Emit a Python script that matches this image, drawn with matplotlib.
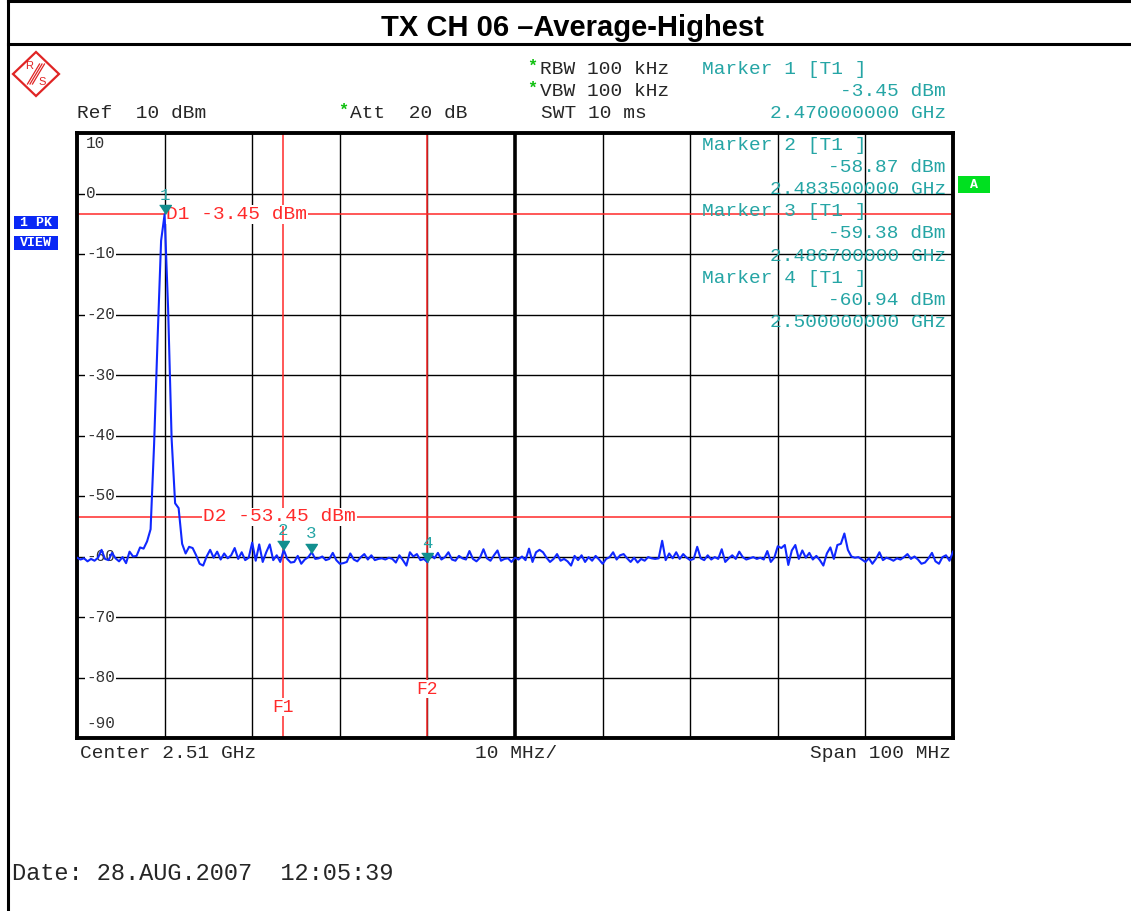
import numpy as np
import matplotlib
matplotlib.use("Agg")
import matplotlib.pyplot as plt
from matplotlib.lines import Line2D
from matplotlib.patches import Polygon, Rectangle

# ---------------- data ----------------
START_MHZ = 2460.0
STOP_MHZ = 2560.0
REF_LEVEL_DBM = 10
BOTTOM_LEVEL_DBM = -90

trace_dbm = [
    -60.2, -60.5, -60.3, -60.8, -60.4, -60.7, -60.2, -58.9, -60.4, -60.6,
    -59.4, -60.3, -60.8, -60.1, -61.1, -59.2, -60.0, -59.9, -58.5, -58.7,
    -57.5, -55.5, -41.5, -24.0, -7.8, -3.45, -19.0, -40.5, -51.2, -52.0,
    -57.9, -59.5, -58.4, -58.6, -59.8, -61.2, -61.5, -60.0, -58.9, -60.2,
    -59.2, -60.5, -59.5, -60.3, -59.8, -58.6, -60.4, -59.3, -60.6, -60.2,
    -57.7, -60.7, -58.0, -60.9, -59.3, -58.0, -60.6, -59.8, -60.9, -58.9,
    -60.4, -61.0, -60.9, -59.9, -61.2, -60.5, -60.1, -59.3, -60.4, -60.3,
    -60.0, -60.6, -60.4, -59.4, -60.6, -61.2, -61.1, -60.9, -59.5, -60.5,
    -60.8, -60.1, -59.6, -60.5, -59.8, -60.6, -60.4, -60.3, -60.5, -60.2,
    -60.4, -61.0, -59.8, -60.6, -61.5, -59.3, -60.0, -59.6, -60.6, -60.4,
    -60.94, -59.6, -60.3, -59.4, -60.5, -60.1, -59.3, -60.5, -60.7, -59.9,
    -60.3, -60.5, -59.1, -60.4, -60.8, -60.2, -58.8, -60.3, -60.7, -59.8,
    -59.0, -60.7, -60.4, -60.3, -60.9, -60.2, -60.5, -60.0, -60.6, -58.7,
    -60.9, -59.3, -58.9, -59.3, -60.2, -60.9, -60.4, -59.6, -60.7, -60.4,
    -60.8, -61.5, -59.9, -60.6, -59.8, -60.9, -60.1, -60.7, -59.9, -60.5,
    -61.2, -60.4, -60.1, -59.3, -60.5, -59.8, -59.6, -60.3, -60.9, -60.2,
    -61.0, -60.4, -60.7, -60.1, -60.3, -60.4, -60.3, -57.4, -60.6, -59.5,
    -60.3, -59.3, -60.4, -59.6, -60.2, -60.6, -60.4, -58.4, -60.3, -60.6,
    -59.8, -60.5, -60.1, -60.4, -58.8, -60.9, -60.3, -59.8, -60.4, -59.2,
    -60.1, -60.5, -60.3, -60.1, -60.4, -60.2, -60.5, -59.1, -60.9, -60.2,
    -58.3, -58.6, -58.1, -61.4, -59.0, -58.1, -60.4, -59.0, -60.2, -59.4,
    -60.5, -59.9, -60.6, -61.5, -59.5, -58.5, -60.4, -58.1, -57.9, -56.2,
    -58.9, -60.0, -60.2, -60.1, -60.5, -60.9, -60.3, -61.2, -60.4, -59.3,
    -60.6, -60.2, -60.4, -60.7, -60.3, -60.5, -60.1, -59.6, -60.4, -60.0,
    -60.5, -61.2, -61.0, -60.3, -59.4, -60.8, -61.2, -60.1, -59.8, -60.7,
    -59.2,
]
freq_mhz = np.linspace(START_MHZ, STOP_MHZ, len(trace_dbm))

marker_ids = [1, 2, 3, 4]
marker_freq_ghz = [2.470, 2.4835, 2.4867, 2.500]
marker_level_dbm = [-3.45, -58.87, -59.38, -60.94]

display_line_names = ["D1", "D2"]
display_line_dbm = [-3.45, -53.45]
freq_line_names = ["F1", "F2"]
freq_line_ghz = [2.4835, 2.500]

y_tick_values = [10, 0, -10, -20, -30, -40, -50, -60, -70, -80, -90]

# ---------------- figure ----------------
W, H = 1131, 911
MONO = "Liberation Mono"
FS = 14
TEAL = "#25a5a5"
MTEAL = "#118f8f"
RED = "#ff2a2a"
DARK = "#262626"


def fx(px):
    return px / W


def fy(py):
    return 1 - py / H


fig = plt.figure(figsize=(W / 100, H / 100), dpi=100)
fig.patch.set_facecolor("white")

L, R, T, B = 77, 953, 133, 738
ax = fig.add_axes([fx(L), fy(B), (R - L) / W, (B - T) / H])
ax.set_xlim(START_MHZ, STOP_MHZ)
ax.set_ylim(BOTTOM_LEVEL_DBM, REF_LEVEL_DBM)
ax.set_xticks([])
ax.set_yticks([])
for s in ax.spines.values():
    s.set_linewidth(2.8)
    s.set_color("black")

# grid
for k in range(1, 10):
    xv = START_MHZ + k * (STOP_MHZ - START_MHZ) / 10
    ax.axvline(xv, color="black", lw=2.6 if k == 5 else 1.0, zorder=1)
for yv in y_tick_values[1:-1]:
    ax.axhline(yv, color="black", lw=1.0, zorder=1)

# y labels inside the plot
xlab = 9 / (R - L)
for yv in y_tick_values:
    if yv == REF_LEVEL_DBM:
        ax.text(xlab, (B - 144) / (B - T), str(yv), transform=ax.transAxes, ha="left", va="center",
                family=MONO, fontsize=11.5, color="#333333", zorder=3)
    elif yv == BOTTOM_LEVEL_DBM:
        ax.text(xlab, (B - 723) / (B - T), str(yv), transform=ax.transAxes, ha="left", va="center",
                family=MONO, fontsize=11.5, color="#333333", zorder=3)
    else:
        ax.text(xlab, yv, str(yv), transform=ax.get_yaxis_transform(), ha="left", va="center",
                family=MONO, fontsize=11.5, color="#333333", zorder=3,
                bbox=dict(fc="white", ec="none", pad=0.6))

# display lines and frequency lines
for name, lvl, start_px in zip(display_line_names, display_line_dbm, [166, 203]):
    ax.axhline(lvl, color=RED, lw=1.1, zorder=2)
    ax.text(START_MHZ + (start_px - L) / 8.76, lvl, f"{name} {lvl:.2f} dBm", ha="left", va="center",
            family=MONO, fontsize=FS, color=RED, zorder=3,
            bbox=dict(fc="white", ec="none", pad=0.5))
for name, fg, ypx in zip(freq_line_names, freq_line_ghz, [707, 689]):
    ax.axvline(fg * 1000, color=RED, lw=1.1, zorder=2)
    ax.text(fg * 1000, (B - ypx) / (B - T), name, transform=ax.get_xaxis_transform(),
            ha="center", va="center", family=MONO, fontsize=13, color=RED, zorder=3,
            bbox=dict(fc="white", ec="none", pad=0.6))

# trace
ax.plot(freq_mhz, trace_dbm, color="#1028ff", lw=1.5, zorder=4)

# markers
tri = [(-0.65, 1.0), (0.65, 1.0), (0.0, 0.0)]
for mid, mf, ml in zip(marker_ids, marker_freq_ghz, marker_level_dbm):
    ax.plot([mf * 1000], [ml], marker=tri, ms=13, color=MTEAL, mec=MTEAL, zorder=5, ls="none")
    ax.annotate(str(mid), (mf * 1000, ml), xytext=(0, 13.5), textcoords="offset points",
                ha="center", va="center", family=MONO, fontsize=12.5, color=TEAL, zorder=6)

# marker readouts
rows_y = [(69, 91, 113), (145, 167, 189), (212, 234, 256), (279, 301, 323)]
for mid, mf, ml, (y1, y2, y3) in zip(marker_ids, marker_freq_ghz, marker_level_dbm, rows_y):
    fig.text(fx(702), fy(y1), f"Marker {mid} [T1 ]", ha="left", va="center",
             family=MONO, fontsize=FS, color=TEAL, zorder=10)
    fig.text(fx(946), fy(y2), f"{ml:.2f} dBm", ha="right", va="center",
             family=MONO, fontsize=FS, color=TEAL, zorder=10)
    fig.text(fx(946), fy(y3), f"{mf:.9f} GHz", ha="right", va="center",
             family=MONO, fontsize=FS, color=TEAL, zorder=10)

# header settings
GREEN = "#10c010"
fig.text(fx(527), fy(66), "*", family=MONO, fontsize=12, color=GREEN, ha="left", va="center", weight="bold")
fig.text(fx(540), fy(69), "RBW 100 kHz", family=MONO, fontsize=FS, color=DARK, ha="left", va="center")
fig.text(fx(527), fy(88), "*", family=MONO, fontsize=12, color=GREEN, ha="left", va="center", weight="bold")
fig.text(fx(540), fy(91), "VBW 100 kHz", family=MONO, fontsize=FS, color=DARK, ha="left", va="center")
fig.text(fx(77), fy(113), "Ref  10 dBm", family=MONO, fontsize=FS, color=DARK, ha="left", va="center")
fig.text(fx(338), fy(110), "*", family=MONO, fontsize=12, color=GREEN, ha="left", va="center", weight="bold")
fig.text(fx(350), fy(113), "Att  20 dB", family=MONO, fontsize=FS, color=DARK, ha="left", va="center")
fig.text(fx(541), fy(113), "SWT 10 ms", family=MONO, fontsize=FS, color=DARK, ha="left", va="center")

# footer of plot
fig.text(fx(80), fy(753), "Center 2.51 GHz", family=MONO, fontsize=FS, color=DARK, ha="left", va="center")
fig.text(fx(475), fy(753), "10 MHz/", family=MONO, fontsize=FS, color=DARK, ha="left", va="center")
fig.text(fx(951), fy(753), "Span 100 MHz", family=MONO, fontsize=FS, color=DARK, ha="right", va="center")
fig.text(fx(12), fy(873), "Date: 28.AUG.2007  12:05:39", family=MONO, fontsize=17, color=DARK,
         ha="left", va="center")

# title
fig.text(fx(572), fy(28), "TX CH 06 \u2013Average-Highest", family="Liberation Sans", weight="bold",
         fontsize=21, ha="center", va="center", color="black")

# frame lines
for xs, ys in [((8, 8), (0, H)), ((8, W), (1, 1)), ((8, W), (44, 44))]:
    fig.add_artist(Line2D([fx(v) for v in xs], [fy(v) for v in ys], color="black", lw=2.2,
                          transform=fig.transFigure))

# side boxes
BLUE = "#0a28f5"
for label, (y0, y1) in zip(["1 PK", "VIEW"], [(216, 229), (236, 250)]):
    fig.add_artist(Rectangle((fx(14), fy(y1)), fx(58) - fx(14), fy(y0) - fy(y1), fc=BLUE, ec="none",
                             transform=fig.transFigure))
    fig.text(fx(36), fy((y0 + y1) / 2), label, family=MONO, weight="bold", fontsize=9.5, color="white",
             ha="center", va="center")
fig.add_artist(Rectangle((fx(958), fy(193)), fx(990) - fx(958), fy(176) - fy(193), fc="#00e020", ec="none",
                         transform=fig.transFigure))
fig.text(fx(974), fy(184.5), "A", family=MONO, weight="bold", fontsize=9.5, color="white",
         ha="center", va="center")

# R&S logo
LOGO_RED = "#e02424"
diamond = [(fx(36), fy(52)), (fx(59), fy(74)), (fx(36), fy(96)), (fx(13), fy(74))]
fig.add_artist(Polygon(diamond, closed=True, fill=False, ec=LOGO_RED, lw=1.6, transform=fig.transFigure))
for off in (-2.5, 0, 2.5):
    fig.add_artist(Line2D([fx(30 + off), fx(42 + off)], [fy(84), fy(64)], color=LOGO_RED, lw=0.9,
                          transform=fig.transFigure))
fig.text(fx(29), fy(66), "R", family="Liberation Sans", fontsize=8, color=LOGO_RED, ha="center", va="center")
fig.text(fx(42), fy(82), "S", family="Liberation Sans", fontsize=8, color=LOGO_RED, ha="center", va="center")

fig.savefig("out.png", dpi=100)
